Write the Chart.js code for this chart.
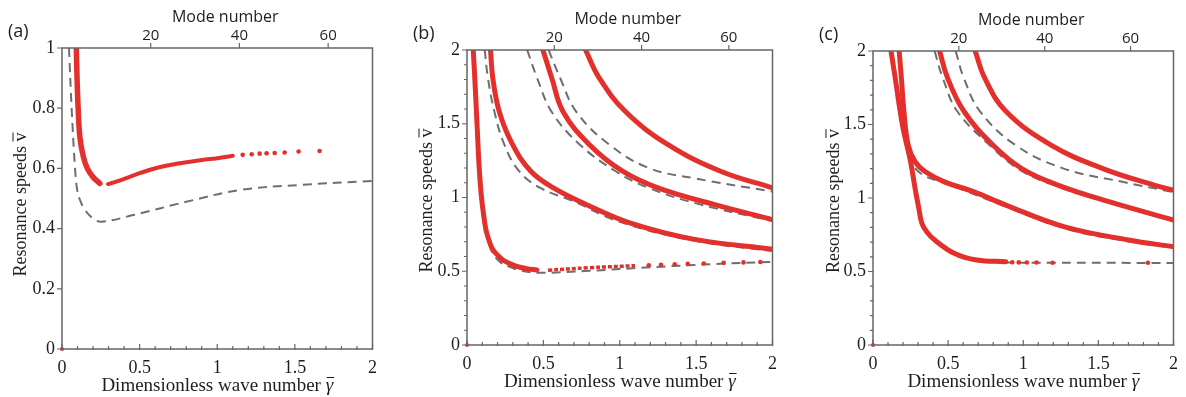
<!DOCTYPE html>
<html>
<head>
<meta charset="utf-8">
<script src="https://cdn.jsdelivr.net/npm/chart.js@4.4.1/dist/chart.umd.min.js"></script>
<style>
  html, body { margin: 0; padding: 0; background: #fff; }
  body { width: 1186px; height: 397px; position: relative; overflow: hidden; }
  .panel { position: absolute; top: 0; height: 397px; }
</style>
</head>
<body>
<div class="panel" style="left:0;width:385px"><canvas id="chartA"></canvas></div>
<div class="panel" style="left:395px;width:390px"><canvas id="chartB"></canvas></div>
<div class="panel" style="left:790px;width:396px"><canvas id="chartC"></canvas></div>
<script>
// top axis ticks
const modeTicks = [20, 40, 60];

// panel (a): [wave number, speed]
const aRedUpper = [[0.092, 1.0], [0.097, 0.9], [0.104, 0.8], [0.116, 0.7], [0.137, 0.64], [0.163, 0.6], [0.2, 0.571], [0.244, 0.55]];
const aRedLower = [[0.296, 0.548], [0.35, 0.556], [0.5, 0.584], [0.62, 0.603], [0.76, 0.617], [0.9, 0.628], [1.0, 0.634], [1.1, 0.642]];
const aRedDots = [[1.164, 0.645], [1.222, 0.647], [1.273, 0.649], [1.318, 0.65], [1.37, 0.651], [1.434, 0.653], [1.524, 0.656], [1.659, 0.658]];
const aGray = [[0.045, 1.0], [0.062, 0.8], [0.084, 0.6], [0.098, 0.528], [0.116, 0.495], [0.148, 0.462], [0.2, 0.434], [0.255, 0.423], [0.459, 0.445], [0.8, 0.489], [1.145, 0.528], [1.53, 0.545], [2.0, 0.558]];

// panel (b)
const bRed1 = [[0.041, 2.0], [0.051, 1.81], [0.066, 1.49], [0.08, 1.2], [0.095, 1.0], [0.116, 0.83], [0.129, 0.76], [0.167, 0.65], [0.21, 0.6], [0.244, 0.57], [0.32, 0.535], [0.39, 0.518], [0.457, 0.509]];
const bRed1Dense = [[0.53, 0.507], [0.8, 0.524], [1.1, 0.538]];
const bRed1Dots = [[1.19, 0.541], [1.27, 0.544], [1.36, 0.547], [1.445, 0.55], [1.55, 0.553], [1.68, 0.557], [1.81, 0.56], [1.92, 0.563]];
const bRed2 = [[0.154, 2.0], [0.169, 1.81], [0.212, 1.58], [0.298, 1.36], [0.416, 1.18], [0.566, 1.065], [0.78, 0.953], [1.06, 0.83], [1.49, 0.716], [2.0, 0.65]];
const bRed3 = [[0.497, 2.0], [0.555, 1.81], [0.63, 1.58], [0.8, 1.36], [1.016, 1.18], [1.25, 1.065], [1.616, 0.953], [2.0, 0.85]];
const bRed4 = [[0.776, 2.0], [0.866, 1.81], [1.037, 1.583], [1.316, 1.358], [1.66, 1.178], [2.0, 1.065]];
const bGray1 = [[0.038, 2.0], [0.048, 1.8], [0.062, 1.5], [0.078, 1.2], [0.095, 0.98], [0.12, 0.78], [0.16, 0.64], [0.22, 0.56], [0.287, 0.527], [0.35, 0.505], [0.48, 0.49], [0.8, 0.503], [1.2, 0.527], [1.6, 0.548], [2.0, 0.563]];
const bGray2 = [[0.116, 2.0], [0.137, 1.81], [0.18, 1.58], [0.244, 1.36], [0.34, 1.18], [0.48, 1.065], [0.695, 0.975], [1.0, 0.835], [1.5, 0.705], [2.0, 0.637]];
const bGray3 = [[0.394, 2.0], [0.459, 1.81], [0.555, 1.58], [0.737, 1.36], [0.973, 1.178], [1.19, 1.065], [1.5, 0.96], [2.0, 0.84]];
const bGray4 = [[0.534, 2.0], [0.61, 1.81], [0.716, 1.58], [0.93, 1.36], [1.19, 1.2], [1.49, 1.13], [2.0, 1.04]];

// panel (c)
const cRed1 = [[0.12, 2.0], [0.148, 1.815], [0.196, 1.497], [0.25, 1.247], [0.282, 1.054], [0.303, 0.941], [0.325, 0.828], [0.357, 0.771], [0.411, 0.714], [0.54, 0.624], [0.69, 0.578], [0.884, 0.567]];
const cRed1Dots = [[0.927, 0.563], [0.97, 0.562], [1.024, 0.561], [1.088, 0.561], [1.195, 0.56], [1.83, 0.56]];
const cRed2 = [[0.174, 2.0], [0.189, 1.815], [0.206, 1.59], [0.234, 1.36], [0.28, 1.247], [0.346, 1.18], [0.475, 1.11], [0.669, 1.043], [0.884, 0.952], [1.27, 0.805], [1.7, 0.714], [2.0, 0.669]];
const cRed3 = [[0.443, 2.0], [0.497, 1.815], [0.605, 1.59], [0.798, 1.36], [0.99, 1.2], [1.23, 1.088], [1.57, 0.975], [2.0, 0.85]];
const cRed4 = [[0.68, 2.0], [0.744, 1.815], [0.884, 1.59], [1.185, 1.36], [1.53, 1.2], [1.87, 1.088], [2.0, 1.054]];
const cGray1 = [[0.115, 2.0], [0.143, 1.815], [0.19, 1.5], [0.245, 1.25], [0.278, 1.05], [0.3, 0.94], [0.322, 0.828], [0.355, 0.768], [0.405, 0.71], [0.53, 0.62], [0.68, 0.575], [0.88, 0.562], [1.2, 0.56], [2.0, 0.558]];
const cGray2 = [[0.125, 2.0], [0.152, 1.815], [0.2, 1.5], [0.228, 1.338], [0.303, 1.179], [0.518, 1.088], [0.84, 0.96], [1.27, 0.795], [1.7, 0.705], [2.0, 0.662]];
const cGray3 = [[0.41, 2.0], [0.465, 1.815], [0.561, 1.59], [0.776, 1.36], [0.98, 1.19], [1.25, 1.07], [1.6, 0.96], [2.0, 0.845]];
const cGray4 = [[0.55, 2.0], [0.605, 1.815], [0.712, 1.59], [0.948, 1.36], [1.27, 1.2], [1.66, 1.11], [2.0, 1.04]];

const origin = [[0, 0]];

const RED = '#e3302c';
const GRAY = '#6e6e6e';
const INK = '#1e1e1e';
const AXIS = '#666';

const toXY = pts => pts.map(p => ({ x: p[0], y: p[1] }));

function redLine(pts, w) {
  return { data: toXY(pts), borderColor: RED, borderWidth: w, borderCapStyle: 'round', pointRadius: 0,
    tension: 0.4, fill: false, order: 0, clip: 0 };
}
function redDash(pts, w) {
  const d = redLine(pts, w);
  d.borderDash = [4, 2];
  d.borderCapStyle = 'butt';
  return d;
}
function redDots(pts, r) {
  return { data: toXY(pts), showLine: false, pointRadius: r, pointBackgroundColor: RED,
    pointBorderWidth: 0, order: 0, clip: 4 };
}
function grayDash(pts) {
  return { data: toXY(pts), borderColor: GRAY, borderWidth: 2, borderDash: [9, 6], pointRadius: 0,
    tension: 0.4, fill: false, order: 1, clip: 0 };
}

const isMajor = (v, m) => Math.abs(v / m - Math.round(v / m)) < 1e-6;
const fmt = v => String(Number(v.toFixed(1)));

// frame, ticks and titles
const frame = {
  id: 'frame',
  afterDraw(chart, args, o) {
    const ctx = chart.ctx, a = chart.chartArea;
    const sx = chart.scales.x, sy = chart.scales.y, sm = chart.scales.mode;
    ctx.save();
    ctx.strokeStyle = AXIS;
    ctx.lineWidth = 1.5;
    ctx.strokeRect(a.left, a.top, a.right - a.left, a.bottom - a.top);
    ctx.lineWidth = 1.2;
    ctx.beginPath();
    sx.ticks.forEach(t => {
      const px = sx.getPixelForValue(t.value);
      const len = isMajor(t.value, 0.5) ? 5 : 3;
      ctx.moveTo(px, a.bottom + 1); ctx.lineTo(px, a.bottom - len);
    });
    sy.ticks.forEach(t => {
      const py = sy.getPixelForValue(t.value);
      const len = isMajor(t.value, o.yMajor) ? 5 : 3;
      ctx.moveTo(a.left - len, py); ctx.lineTo(a.left, py);
    });
    sm.ticks.forEach(t => {
      const px = sm.getPixelForValue(t.value);
      ctx.moveTo(px, a.top); ctx.lineTo(px, a.top - 5);
    });
    ctx.stroke();

    ctx.fillStyle = INK;
    ctx.strokeStyle = INK;
    ctx.lineWidth = 1;
    const cx = (a.left + a.right) / 2;

    // x title with italic gamma
    ctx.textBaseline = 'alphabetic';
    ctx.textAlign = 'left';
    ctx.font = '19px "Liberation Serif"';
    const t1 = 'Dimensionless wave number ';
    const w1 = ctx.measureText(t1).width;
    ctx.font = 'italic 19px "Liberation Serif"';
    const wg = ctx.measureText('\u03b3').width;
    let x0 = cx - (w1 + wg) / 2;
    const by = a.bottom + 42;
    ctx.font = '19px "Liberation Serif"';
    ctx.fillText(t1, x0, by);
    ctx.font = 'italic 19px "Liberation Serif"';
    ctx.fillText('\u03b3', x0 + w1, by);
    ctx.beginPath();
    ctx.moveTo(x0 + w1 + 1, by - 13.5); ctx.lineTo(x0 + w1 + wg + 1, by - 13.5);
    ctx.stroke();

    // y title
    ctx.save();
    ctx.translate(a.left - o.yTitleOff, (a.top + a.bottom) / 2 + o.yTitleShift);
    ctx.rotate(-Math.PI / 2);
    ctx.font = '18px "Liberation Serif"';
    const t2 = 'Resonance speeds ';
    const w2 = ctx.measureText(t2).width;
    const wv = ctx.measureText('v').width;
    const y0 = 6;
    x0 = -(w2 + wv) / 2;
    ctx.fillText(t2, x0, y0);
    ctx.fillText('v', x0 + w2, y0);
    ctx.beginPath();
    ctx.moveTo(x0 + w2, y0 - 13); ctx.lineTo(x0 + w2 + wv, y0 - 13);
    ctx.stroke();
    ctx.restore();

    // top title and panel label
    ctx.textAlign = 'center';
    ctx.textBaseline = 'middle';
    ctx.font = '16px "Open Sans"';
    ctx.fillText('Mode number', cx + 8, a.top - 31);
    ctx.textAlign = 'left';
    ctx.font = '18px "Open Sans"';
    ctx.fillText(o.label, a.left - 54, a.top - 16);
    ctx.restore();
  }
};

function makePanel(id, lay, series) {
  const serif = { family: 'Liberation Serif', size: 18 };
  new Chart(document.getElementById(id), {
    type: 'line',
    data: { datasets: series },
    options: {
      responsive: true,
      maintainAspectRatio: false,
      animation: false,
      layout: { padding: { right: lay.padRight, left: 0, top: 0, bottom: 0 } },
      plugins: {
        legend: { display: false },
        tooltip: { enabled: false },
        frame: lay
      },
      scales: {
        x: {
          type: 'linear', position: 'bottom', min: 0, max: 2,
          afterFit: s => { s.height = lay.bottom; },
          grid: { display: false, drawTicks: false },
          border: { display: false },
          ticks: { stepSize: 0.1, autoSkip: false, maxRotation: 0, padding: 8, color: INK, font: serif,
            callback: v => isMajor(v, 0.5) ? fmt(v) : '' }
        },
        mode: {
          type: 'linear', position: 'top', min: 0, max: 70,
          afterBuildTicks: s => { s.ticks = modeTicks.map(v => ({ value: v })); },
          afterFit: s => { s.height = lay.top; },
          grid: { display: false, drawTicks: false },
          border: { display: false },
          ticks: { autoSkip: false, maxRotation: 0, padding: 3, color: INK,
            font: { family: 'Open Sans', size: 15 }, callback: v => String(v) }
        },
        y: {
          type: 'linear', position: 'left', min: 0, max: lay.yMax,
          afterFit: s => { s.width = lay.left; },
          grid: { display: false, drawTicks: false },
          border: { display: false },
          ticks: { stepSize: lay.yStep, autoSkip: false, padding: 7, color: INK, font: serif,
            callback: v => isMajor(v, lay.yMajor) ? fmt(v) : '' }
        }
      }
    },
    plugins: [frame]
  });
}

makePanel('chartA',
  { label: '(a)', left: 62, top: 48, bottom: 48, padRight: 12, yMax: 1, yStep: 0.2, yMajor: 0.2, yTitleOff: 42, yTitleShift: 6 },
  [
    redLine(aRedUpper, 5.5), redLine(aRedLower, 4), redDots(aRedDots, 2.3), redDots(origin, 2),
    grayDash(aGray)
  ]);

makePanel('chartB',
  { label: '(b)', left: 72, top: 50, bottom: 52, padRight: 7, yMax: 2, yStep: 0.1, yMajor: 0.5, yTitleOff: 41, yTitleShift: 3 },
  [
    redLine(bRed1, 5), redDash(bRed1Dense, 3.5), redDots(bRed1Dots, 2.3), redLine(bRed2, 5),
    redLine(bRed3, 5), redLine(bRed4, 5), redDots(origin, 2),
    grayDash(bGray1), grayDash(bGray2), grayDash(bGray3), grayDash(bGray4)
  ]);

makePanel('chartC',
  { label: '(c)', left: 83, top: 51, bottom: 52, padRight: 3, yMax: 2, yStep: 0.1, yMajor: 0.5, yTitleOff: 40, yTitleShift: 3 },
  [
    redLine(cRed1, 5), redDots(cRed1Dots, 2.3), redLine(cRed2, 5), redLine(cRed3, 5), redLine(cRed4, 5),
    redDots(origin, 2),
    grayDash(cGray1), grayDash(cGray2), grayDash(cGray3), grayDash(cGray4)
  ]);
</script>
</body>
</html>
